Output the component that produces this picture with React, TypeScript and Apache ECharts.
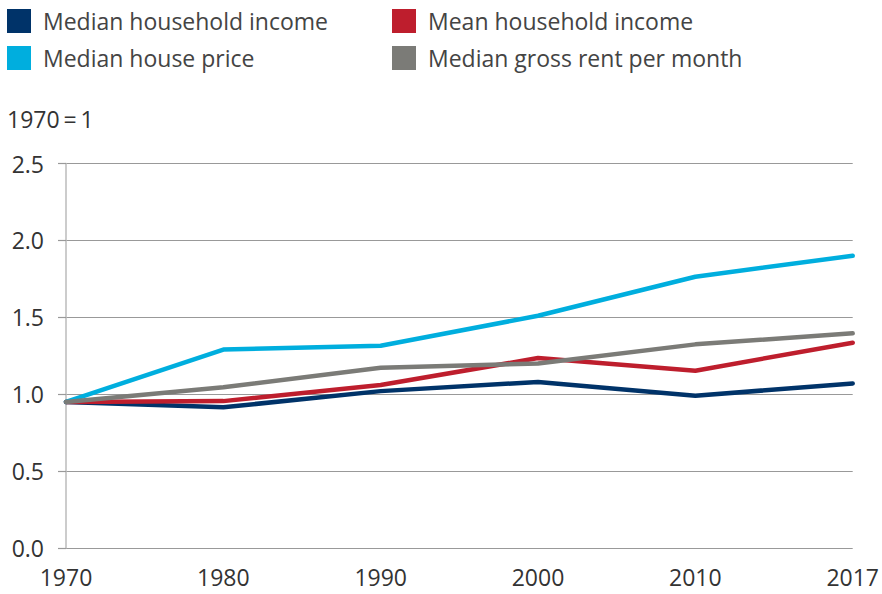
import React, { useEffect, useRef } from "react";
import * as echarts from "echarts";

const years = ["1970", "1980", "1990", "2000", "2010", "2017"];
const medianIncome = [0.95, 0.915, 1.02, 1.08, 0.99, 1.07];
const meanIncome = [0.95, 0.955, 1.06, 1.235, 1.153, 1.335];
const housePrice = [0.95, 1.29, 1.315, 1.51, 1.764, 1.9];
const grossRent = [0.95, 1.045, 1.172, 1.2, 1.324, 1.396];

const FONT = "Open Sans";
const FS = 23;

export default function App() {
  const ref = useRef<HTMLDivElement>(null);
  useEffect(() => {
    const chart = echarts.init(ref.current!, null, { renderer: "svg" });
    const mk = (name: string, data: number[], color: string) => ({
      name,
      type: "line",
      data,
      symbol: "none",
      lineStyle: { width: 4.5, color, cap: "round", join: "round" },
      itemStyle: { color },
    });
    const legendBase = {
      orient: "vertical",
      icon: "rect",
      itemWidth: 24,
      itemHeight: 24,
      itemGap: 13,
      textStyle: { fontFamily: FONT, fontSize: FS, color: "#444", padding: [0, 0, 0, 7] },
      padding: 0,
    };
    chart.setOption({
      animation: false,
      textStyle: { fontFamily: FONT },
      legend: [
        { ...legendBase, left: 7, top: 9, data: ["Median household income", "Median house price"] },
        { ...legendBase, left: 392, top: 9, data: ["Mean household income", "Median gross rent per month"] },
      ],
      graphic: [
        {
          type: "text",
          left: 7,
          top: 107,
          style: { text: "1970\u2009=\u20091", fontFamily: FONT, fontSize: FS, fill: "#333" },
        },
      ],
      grid: { left: 66, right: 29, top: 163.5, bottom: 46, containLabel: false },
      xAxis: {
        type: "category",
        data: years,
        boundaryGap: false,
        axisLine: { show: false },
        axisTick: { show: false },
        axisLabel: { fontFamily: FONT, fontSize: FS, color: "#333", margin: 17 },
        splitLine: { show: false },
      },
      yAxis: {
        type: "value",
        min: 0,
        max: 2.5,
        interval: 0.5,
        axisLine: { show: true, lineStyle: { color: "#bbb", width: 1.5 } },
        axisTick: { show: true, length: 8, lineStyle: { color: "#999", width: 1.2 } },
        axisLabel: {
          fontFamily: FONT,
          fontSize: FS,
          color: "#333",
          margin: 22,
          formatter: (v: number) => v.toFixed(1),
        },
        splitLine: { show: true, lineStyle: { color: "#999", width: 1.2 } },
      },
      series: [
        mk("Median household income", medianIncome, "#003369"),
        mk("Mean household income", meanIncome, "#BE1E2D"),
        mk("Median house price", housePrice, "#00AEDE"),
        mk("Median gross rent per month", grossRent, "#7B7B77"),
      ],
    });
    return () => chart.dispose();
  }, []);
  return <div ref={ref} style={{ width: 882, height: 594, position: "absolute", left: 0, top: 0 }} />;
}
